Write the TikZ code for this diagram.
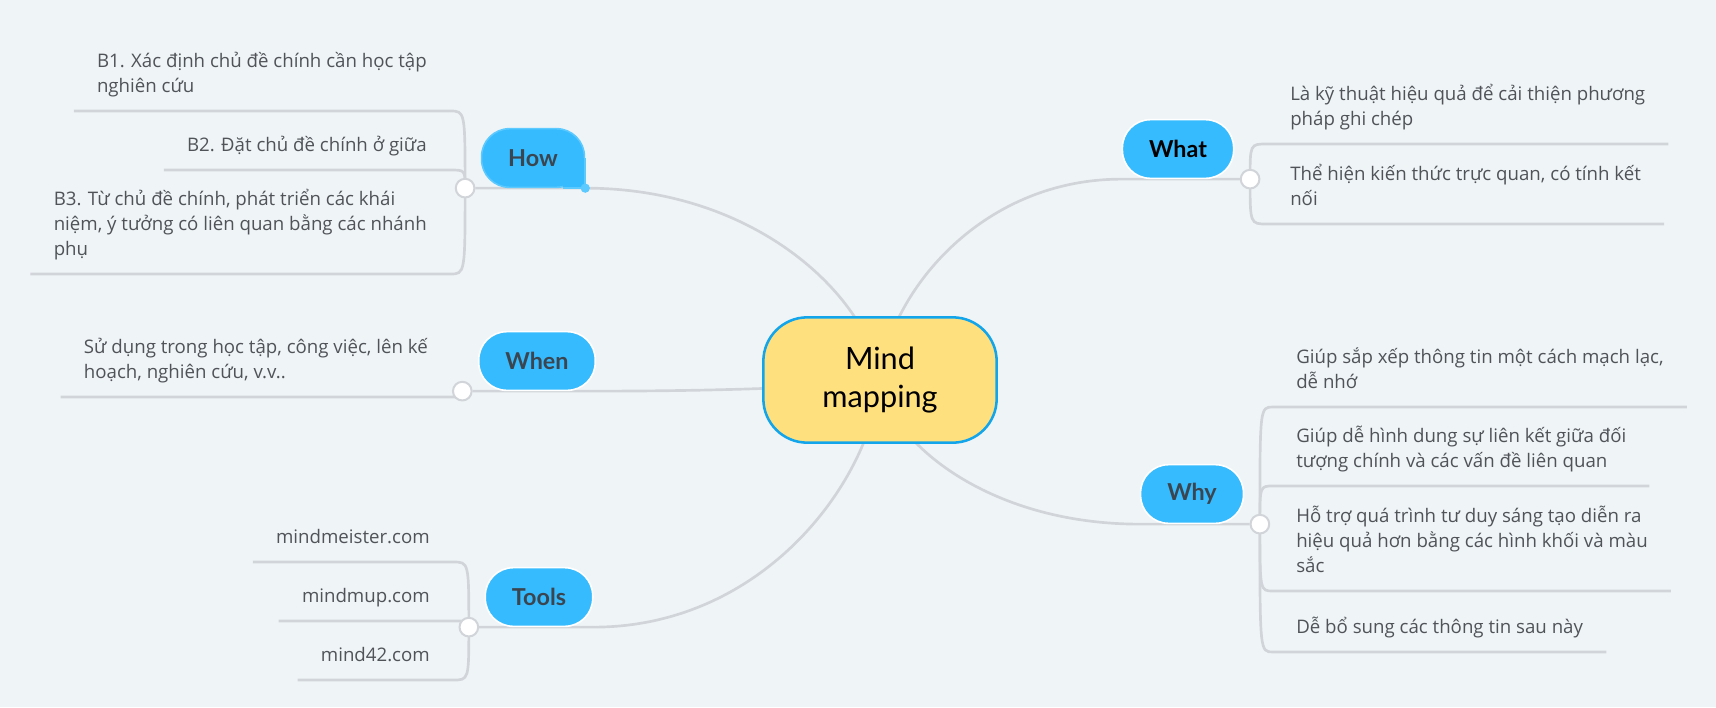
\documentclass[tikz,border=0pt]{standalone}
\usepackage{fontspec}
\setmainfont{Open Sans}
\newfontfamily\latofont{Lato}
\usetikzlibrary{positioning,calc,backgrounds}

\definecolor{bgcol}{HTML}{EFF4F7}
\definecolor{topicblue}{HTML}{36BBFE}
\definecolor{howline}{HTML}{5CC9FF}
\definecolor{centrefill}{HTML}{FFE07F}
\definecolor{centreline}{HTML}{12A5EC}
\definecolor{branchgray}{HTML}{D1D5D9}
\definecolor{leaftext}{HTML}{505459}
\definecolor{topictext}{HTML}{3B4550}

\tikzset{
  centre/.style={draw=centreline, fill=centrefill, line width=1.9pt, rounded corners=33pt,
    minimum width=175pt, minimum height=94pt, align=center,
    font=\latofont\fontsize{23}{28.7}\selectfont},
  topic/.style={draw=white, line width=1.2pt, fill=topicblue, rounded corners=21pt,
    minimum height=44pt, inner xsep=20pt, text=topictext,
    font=\latofont\bfseries\fontsize{17.5}{20}\selectfont},
  dot/.style={circle, draw=branchgray, fill=white, line width=1.5pt, minimum size=14pt, inner sep=0pt},
  leaf/.style={align=left, inner xsep=17.25pt, inner ysep=7.9pt, text=leaftext,
    font=\fontsize{14}{18.75}\selectfont, execute at end node=\strut},
  branch/.style={draw=branchgray, line width=2pt},
}

\begin{document}
\begin{tikzpicture}[x=0.75pt,y=-0.75pt]
\useasboundingbox (0,0) rectangle (1716,707);

% centre and main topics
\node[centre] (mind) at (880,380) {Mind\\mapping};
\node[topic, draw=howline] (how) at (533,158) {How};
\node[topic] (when) at (537,361) {When};
\node[topic] (tools) at (539,597) {Tools};
\node[topic, text=black] (what) at (1178,149) {What};
\node[topic] (why) at (1192,494) {Why};

% the selected look of How
\fill[topicblue] ($(how.south east)+(-22,0)$) rectangle (how.east);
\draw[howline, line width=1.2pt] (how.east) -- (how.south east) -- +(-22,0);
\fill[howline] (how.south east) circle (3.5pt);

\node[dot, left=4pt of how.south west] (howdot) {};
\node[dot, left=4pt of when.south west] (whendot) {};
\node[dot, left=4pt of tools.south west] (toolsdot) {};
\node[dot, right=4pt of what.south east] (whatdot) {};
\node[dot, right=4pt of why.south east] (whydot) {};

% leaves
\node[leaf, anchor=south east] (how1) at (450,111) {B1. Xác định chủ đề chính cần học tập\\nghiên cứu};
\node[leaf, anchor=south east] (how2) at (450,170) {B2. Đặt chủ đề chính ở giữa};
\node[leaf, anchor=south east] (how3) at (450,274) {B3. Từ chủ đề chính, phát triển các khái\\niệm, ý tưởng có liên quan bằng các nhánh\\phụ};
\node[leaf, anchor=south east] (when1) at (451,397) {Sử dụng trong học tập, công việc, lên kế\\hoạch, nghiên cứu, v.v..};
\node[leaf, anchor=south east] (tool1) at (453,562) {mindmeister.com};
\node[leaf, anchor=south east] (tool2) at (453,621) {mindmup.com};
\node[leaf, anchor=south east] (tool3) at (453,680) {mind42.com};
\node[leaf, anchor=south west] (what1) at (1267,144) {Là kỹ thuật hiệu quả để cải thiện phương\\pháp ghi chép};
\node[leaf, anchor=south west] (what2) at (1267,224) {Thể hiện kiến thức trực quan, có tính kết\\nối};
\node[leaf, anchor=south west] (why1) at (1273,407) {Giúp sắp xếp thông tin một cách mạch lạc,\\dễ nhớ};
\node[leaf, anchor=south west] (why2) at (1273,486) {Giúp dễ hình dung sự liên kết giữa đối\\tượng chính và các vấn đề liên quan};
\node[leaf, anchor=south west] (why3) at (1273,591) {Hỗ trợ quá trình tư duy sáng tạo diễn ra\\hiệu quả hơn bằng các hình khối và màu\\sắc};
\node[leaf, anchor=south west] (why4) at (1273,652) {Dễ bổ sung các thông tin sau này};

\begin{scope}[on background layer]
\fill[bgcol] (0,0) rectangle (1716,707);
% main branches
\draw[branch] (mind.center) .. controls +(-10,-80) and +(174,0) .. (how.south east) -- (howdot);
\draw[branch] (mind.center) .. controls +(-10,4) and +(168,0) .. (when.south east) -- (whendot);
\draw[branch] (mind.center) .. controls +(-10,103) and +(169,0) .. (tools.south east) -- (toolsdot);
\draw[branch] (mind.center) .. controls +(8,-84) and +(-143,0) .. (what.south west) -- (whatdot);
\draw[branch] (mind.center) .. controls +(9,60) and +(-154,0) .. (why.south west) -- (whydot);
% sub branches
\foreach \d/\l in {howdot/how1,howdot/how2,howdot/how3,whendot/when1,toolsdot/tool1,toolsdot/tool2,toolsdot/tool3}
  \draw[branch] (\d.center) .. controls (\d.center |- \l.south east) .. (\l.south east) -- (\l.south west);
\foreach \d/\l in {whatdot/what1,whatdot/what2,whydot/why1,whydot/why2,whydot/why3,whydot/why4}
  \draw[branch] (\d.center) .. controls (\d.center |- \l.south west) .. (\l.south west) -- (\l.south east);
\end{scope}
\end{tikzpicture}
\end{document}
